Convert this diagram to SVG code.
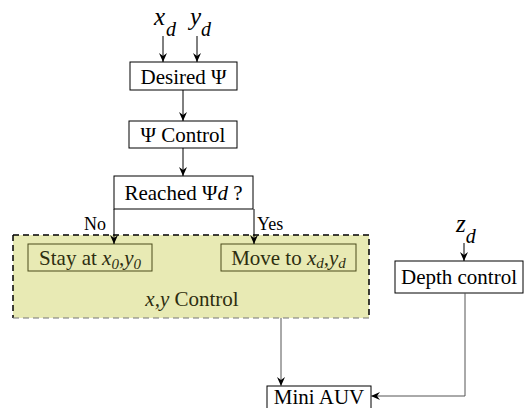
<svg xmlns="http://www.w3.org/2000/svg" width="525" height="408" viewBox="0 0 525 408">
<defs>
<marker id="ah" markerWidth="10" markerHeight="10" refX="9" refY="5" orient="auto" markerUnits="userSpaceOnUse">
<path d="M0,1 L9,5 L0,9 L3,5 Z" fill="#000"/>
</marker>
</defs>
<style>
text{font-family:"Liberation Serif","Times New Roman",serif;font-size:21px;fill:#000}
.box{fill:#fff;stroke:#000;stroke-width:1}
.ibox{fill:none;stroke:#4a4a1a;stroke-width:1}
.itext{fill:#2e2e10}
.i{font-style:italic}
.big{font-size:25px}
.sub{font-size:20px}
.s{font-size:15px}
.lab{font-size:18px}
.c{stroke:#000;stroke-width:1;fill:none;marker-end:url(#ah)}
.g{stroke:#555}
</style>
<g id="region">
<rect x="13" y="235" width="356" height="83" fill="#e8eab4" stroke="none"/>
<path d="M13,235 H369 V318 M13,235 V318" fill="none" stroke="#000" stroke-width="1.5" stroke-dasharray="6,4"/>
<path d="M13,318 H369" fill="none" stroke="#777" stroke-width="1" stroke-dasharray="6,4"/>
<text x="192" y="306" text-anchor="middle" class="itext"><tspan class="i">x,y</tspan> Control</text>
</g>
<g id="xd"><text x="154" y="25" class="i big">x<tspan class="sub" dx="1" dy="11">d</tspan></text></g>
<g id="yd"><text x="190" y="25" class="i big">y<tspan class="sub" dx="0" dy="11">d</tspan></text></g>
<g id="zd"><text x="456" y="232" class="i big">z<tspan class="sub" dx="0" dy="11">d</tspan></text></g>
<g id="desired"><rect class="box" x="130" y="62" width="107" height="28"/><text x="183.5" y="84" text-anchor="middle">Desired Ψ</text></g>
<g id="psicontrol"><rect class="box" x="129" y="121" width="108" height="27"/><text x="183" y="142" text-anchor="middle">Ψ Control</text></g>
<g id="reached"><rect class="box" x="114" y="176" width="139" height="33"/><text x="183.5" y="200" text-anchor="middle">Reached  Ψ<tspan class="i">d</tspan>  ?</text></g>
<g id="stay"><rect class="ibox" x="28" y="244" width="124" height="27"/><text x="90" y="265" text-anchor="middle" class="itext">Stay at <tspan class="i">x<tspan class="s" dy="4">0</tspan><tspan dy="-4">,y</tspan><tspan class="s" dy="4">0</tspan></tspan></text></g>
<g id="move"><rect class="ibox" x="221" y="244" width="135" height="27"/><text x="288.5" y="265" text-anchor="middle" class="itext">Move to <tspan class="i">x<tspan class="s" dy="3">d</tspan><tspan dy="-3">,y</tspan><tspan class="s" dy="3">d</tspan></tspan></text></g>
<g id="depth"><rect class="box" x="395" y="261" width="128" height="32"/><text x="459" y="284" text-anchor="middle">Depth control</text></g>
<g id="auv"><rect class="box" x="267" y="386" width="104" height="30"/><text x="319" y="404" text-anchor="middle">Mini AUV</text></g>
<g id="labels"><text x="84" y="230" class="lab">No</text><text x="257" y="230" class="lab">Yes</text></g>
<g id="connectors">
<line class="c" x1="163" y1="36" x2="163" y2="62"/>
<line class="c" x1="197" y1="36" x2="197" y2="62"/>
<line class="c" x1="183" y1="90" x2="183" y2="121"/>
<line class="c" x1="183" y1="148" x2="183" y2="176"/>
<line class="c" x1="114" y1="209" x2="114" y2="244"/>
<line class="c" x1="254" y1="209" x2="254" y2="244"/>
<line class="c" x1="464" y1="243" x2="464" y2="261"/>
<line class="c g" x1="281" y1="318" x2="281" y2="386"/>
<path class="c g" d="M465,293 V396 H371"/>
</g>
</svg>
